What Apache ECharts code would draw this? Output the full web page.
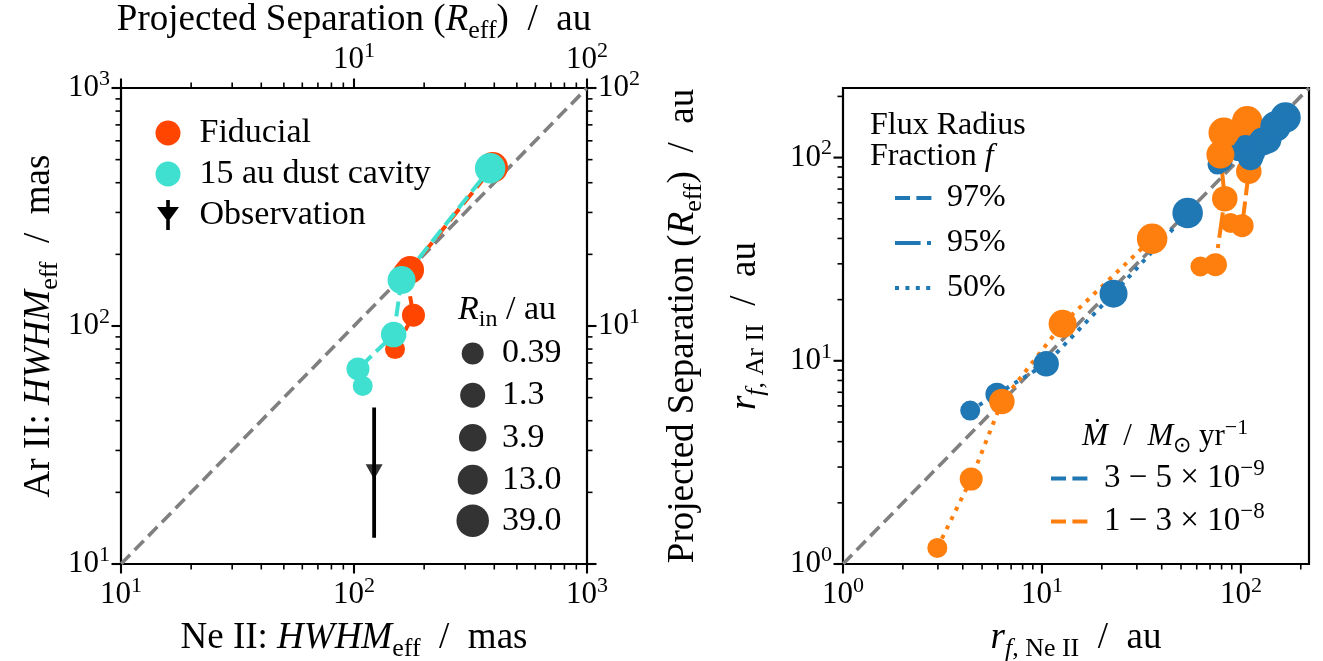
<!DOCTYPE html>
<html>
<head>
<meta charset="utf-8">
<script src="https://cdn.jsdelivr.net/npm/echarts@6/dist/echarts.min.js"></script>
<style>
  html, body { margin: 0; padding: 0; background: #fff; }
  #chart { width: 1323px; height: 661px; }
</style>
</head>
<body>
<div id="chart"></div>
<script>
// ---- data -------------------------------------------------------------
// inner-hole radius of each model (au); one marker size per radius
const rIn = [0.39, 1.3, 3.9, 13.0, 39.0];

// left panel: effective HWHM (mas), Ne II vs Ar II
const fiducialNe = [150, 180, 167, 174, 394];
const fiducialAr = [80, 111, 167, 172, 464];
const cavityNe = [109, 104, 148, 160, 384];
const cavityAr = [56, 66, 92, 156, 460];

// observed HWHM (mas) with its Ar II error bar
const obsNe = [122];
const obsAr = [24.4];
const obsArRange = [12.9, 45.4];

// 1:1 reference line ends
const unityLeft = [10, 1000];
const unityRight = [1, 220];

// right panel: flux radii r_f (au), Ne II vs Ar II
// low accretion rate (3-5e-9)
const lowNe97 = [76.3, 97.2, 114.4, 136.1, 167.6];
const lowAr97 = [92.4, 109.5, 105.8, 122.6, 157.4];
const lowNe95 = [80.8, 105.5, 111.7, 128.5, 149.3];
const lowAr95 = [95.6, 113.3, 100.0, 119.9, 142.2];
const lowNe50 = [4.36, 5.94, 10.5, 22.9, 54.0];
const lowAr50 = [5.69, 6.85, 9.67, 21.4, 53.4];
// high accretion rate (1-3e-8)
const highNe97 = [88.7, 101.5, 109.6, 106.7, 107.6];
const highAr97 = [47.7, 46.2, 85.6, 122.6, 151.0];
const highNe95 = [62.6, 74.5, 83.0, 78.9, 82.0];
const highAr95 = [29.1, 29.7, 62.8, 103.5, 132.4];
const highNe50 = [2.98, 4.41, 6.29, 12.7, 35.8];
const highAr50 = [1.20, 2.62, 6.30, 15.2, 39.9];

// axis ranges and decade ticks
const masRange = [10, 1000];
const auRange = [1, 100];
const rfRange = [1, 220];
const masMajor = [10, 100, 1000];
const auMajor = [1, 10, 100];

// ---- styles ------------------------------------------------------------
const F = 'Liberation Serif';
const markerSize = [20, 23, 25.5, 28, 30.5];
const keySize = [22, 25, 27.5, 30, 32.5];
const C = {
  fid: '#ff4500', cav: '#40e0d0', obs: '#000000',
  blue: '#1f77b4', orange: '#ff7f0e', unity: '#808080'
};
const LW = 4;
const DASH = [15, 6.4], DASHDOT = [25.6, 6.4, 4, 6.4], DOT = [4, 6.4];

function rich(fs) {
  const lh = Math.round(fs * 1.3), sf = Math.round(fs * 0.7);
  const base = { fontFamily: F, color: '#000', fontWeight: 'normal' };
  return {
    r: Object.assign({ fontSize: fs, lineHeight: lh }, base),
    i: Object.assign({ fontSize: fs, lineHeight: lh, fontStyle: 'italic' }, base),
    sub: Object.assign({ fontSize: sf, lineHeight: sf, verticalAlign: 'bottom' }, base),
    subi: Object.assign({ fontSize: sf, lineHeight: sf, verticalAlign: 'bottom', fontStyle: 'italic' }, base),
    sup: Object.assign({ fontSize: sf, lineHeight: sf, verticalAlign: 'top' }, base)
  };
}

function decadeLabel(hideZero) {
  return function (v) {
    const e = Math.log10(v), k = Math.round(e);
    if (Math.abs(e - k) > 1e-6) return '';
    if (hideZero && k === 0) return '';
    return '{r|10}{sup|' + k + '}';
  };
}

function minorsOf(lo, hi) {
  const out = [];
  for (let d = lo; d < hi; d *= 10) {
    for (let k = 2; k < 10; k++) {
      if (d * k <= hi * (1 + 1e-9)) out.push(d * k);
    }
  }
  return out;
}

function pairs(xs, ys) { return xs.map((x, i) => [x, ys[i]]); }

// ---- axes --------------------------------------------------------------
const tickFont = 31;
const nameFont = 37;
function logAxis(extra) {
  return Object.assign({
    type: 'log', logBase: 10,
    axisLine: { show: false }, axisTick: { show: false },
    splitLine: { show: false }, minorTick: { show: false },
    nameLocation: 'middle', nameMoveOverlap: false,
    nameTextStyle: { rich: rich(nameFont) }
  }, extra);
}
function tickLabels(margin, hideZero) {
  return { rich: rich(tickFont), fontFamily: F, fontSize: tickFont, color: '#000',
    margin: margin, hideOverlap: false, formatter: decadeLabel(hideZero) };
}

const xAxes = [
  logAxis({ gridIndex: 0, position: 'bottom', min: masRange[0], max: masRange[1],
    name: '{r|Ne II: }{i|HWHM}{sub|eff}{r|  /  mas}', nameGap: 50,
    axisLabel: tickLabels(11, false) }),
  logAxis({ gridIndex: 0, position: 'top', min: auRange[0], max: auRange[1],
    name: '{r|Projected Separation }{r|(}{i|R}{sub|eff}{r|)  /  au}', nameGap: 44,
    axisLabel: tickLabels(8, true) }),
  logAxis({ gridIndex: 1, position: 'bottom', min: rfRange[0], max: rfRange[1],
    name: '{i|r}{subi|f}{sub|, Ne II}{r|  /  au}', nameGap: 50,
    axisLabel: tickLabels(11, false) })
];
const yAxes = [
  logAxis({ gridIndex: 0, position: 'left', min: masRange[0], max: masRange[1],
    name: '{r|Ar II: }{i|HWHM}{sub|eff}{r|  /  mas}', nameGap: 58, nameRotate: 90,
    axisLabel: tickLabels(11, false) }),
  logAxis({ gridIndex: 0, position: 'right', min: auRange[0], max: auRange[1],
    name: '{r|Projected Separation }{r|(}{i|R}{sub|eff}{r|)  /  au}', nameGap: 72, nameRotate: 90,
    axisLabel: tickLabels(11, true) }),
  logAxis({ gridIndex: 1, position: 'left', min: rfRange[0], max: rfRange[1],
    name: '{i|r}{subi|f}{sub|, Ar II}{r|  /  au}', nameGap: 74, nameRotate: 90,
    axisLabel: tickLabels(11, false) })
];

// ---- tick marks drawn from the axis scales -----------------------------
function tickSeries(xi, yi, side, majors, minors, ref) {
  const horiz = side === 'bottom' || side === 'top';
  const data = majors.map(v => horiz ? [v, ref, 1] : [ref, v, 1])
    .concat(minors.map(v => horiz ? [v, ref, 0] : [ref, v, 0]));
  return {
    type: 'custom', xAxisIndex: xi, yAxisIndex: yi, silent: true, clip: false, z: 20,
    data: data,
    renderItem: function (params, api) {
      const p = api.coord([api.value(0), api.value(1)]);
      const cs = params.coordSys;
      const major = api.value(2) === 1;
      const len = major ? 9.5 : 5.5;
      let s;
      if (side === 'bottom') s = { x1: p[0], y1: cs.y + cs.height, x2: p[0], y2: cs.y + cs.height + len };
      else if (side === 'top') s = { x1: p[0], y1: cs.y, x2: p[0], y2: cs.y - len };
      else if (side === 'left') s = { x1: cs.x, y1: p[1], x2: cs.x - len, y2: p[1] };
      else s = { x1: cs.x + cs.width, y1: p[1], x2: cs.x + cs.width + len, y2: p[1] };
      return { type: 'line', shape: s, style: { stroke: '#000', lineWidth: major ? 2.1 : 1.6 } };
    }
  };
}

// ---- series ------------------------------------------------------------
function modelSeries(name, xs, ys, color, dash, xi, yi) {
  return {
    type: 'line', name: name, xAxisIndex: xi, yAxisIndex: yi,
    data: pairs(xs, ys), symbol: 'circle',
    symbolSize: function (v, p) { return markerSize[p.dataIndex]; },
    itemStyle: { color: color, borderWidth: 0 },
    lineStyle: { color: color, width: LW, type: dash, cap: 'butt' },
    emphasis: { disabled: true }, silent: true, z: 3
  };
}
function unitySeries(ends, xi, yi) {
  return {
    type: 'line', xAxisIndex: xi, yAxisIndex: yi, data: pairs(ends, ends),
    symbol: 'none', lineStyle: { color: C.unity, width: 3.6, type: [13, 6.5] },
    silent: true, z: 2
  };
}
// empty series that only feed legend swatches
function keySeries(name, color, dash, xi, yi) {
  return {
    type: 'line', name: name, xAxisIndex: xi, yAxisIndex: yi, data: [],
    symbol: 'none', itemStyle: { color: color },
    lineStyle: { color: color, width: LW, type: dash, cap: 'butt' }
  };
}

const series = [
  unitySeries(unityLeft, 0, 0),
  modelSeries('Fiducial', fiducialNe, fiducialAr, C.fid, DASH, 0, 0),
  modelSeries('15 au dust cavity', cavityNe, cavityAr, C.cav, DASH, 0, 0),
  {
    type: 'line', name: 'Observation', xAxisIndex: 0, yAxisIndex: 0,
    data: [[obsNe[0], obsArRange[0]], [obsNe[0], obsArRange[1]]],
    symbol: 'none', itemStyle: { color: C.obs },
    lineStyle: { color: C.obs, width: 3.8 }, silent: true, z: 4
  },
  {
    type: 'scatter', name: 'Observation', xAxisIndex: 0, yAxisIndex: 0,
    data: pairs(obsNe, obsAr), symbol: 'triangle', symbolRotate: 180,
    symbolSize: [17, 15], itemStyle: { color: C.obs }, silent: true, z: 5
  },
  unitySeries(unityRight, 2, 2),
  modelSeries('low 97', lowNe97, lowAr97, C.blue, DASH, 2, 2),
  modelSeries('high 97', highNe97, highAr97, C.orange, DASH, 2, 2),
  modelSeries('low 95', lowNe95, lowAr95, C.blue, DASHDOT, 2, 2),
  modelSeries('high 95', highNe95, highAr95, C.orange, DASHDOT, 2, 2),
  modelSeries('low 50', lowNe50, lowAr50, C.blue, DOT, 2, 2),
  modelSeries('high 50', highNe50, highAr50, C.orange, DOT, 2, 2),
  keySeries('97%', C.blue, DASH, 2, 2),
  keySeries('95%', C.blue, DASHDOT, 2, 2),
  keySeries('50%', C.blue, DOT, 2, 2),
  keySeries('rate low', C.blue, DASH, 2, 2),
  keySeries('rate high', C.orange, DASH, 2, 2),
  tickSeries(0, 0, 'bottom', masMajor, minorsOf(masRange[0], masRange[1]), masRange[0]),
  tickSeries(0, 0, 'left', masMajor, minorsOf(masRange[0], masRange[1]), masRange[0]),
  tickSeries(1, 1, 'top', auMajor, minorsOf(auRange[0], auRange[1]), auRange[0]),
  tickSeries(1, 1, 'right', auMajor, minorsOf(auRange[0], auRange[1]), auRange[0]),
  tickSeries(2, 2, 'bottom', auMajor, minorsOf(rfRange[0], rfRange[1]), rfRange[0]),
  tickSeries(2, 2, 'left', auMajor, minorsOf(rfRange[0], rfRange[1]), rfRange[0])
];

// size key: one black dot per inner radius
const rInName = v => (v >= 10 ? v.toFixed(1) : String(v));
rIn.forEach(v => {
  series.push({ type: 'scatter', name: rInName(v), xAxisIndex: 0, yAxisIndex: 0,
    data: [], itemStyle: { color: '#000' } });
});

// ---- legends -----------------------------------------------------------
const obsIcon = 'path://M9.2 0 L12.8 0 L12.8 7 L22 7 L11 22 L0 7 L9.2 7 Z M9.2 20 L12.8 20 L12.8 30 L9.2 30 Z';
const legends = [
  {
    left: 155.5, top: 116, orient: 'vertical', padding: 0, itemGap: 7,
    itemWidth: 25, itemHeight: 30, selectedMode: false,
    textStyle: { fontFamily: F, fontSize: 34, lineHeight: 30, color: '#000', padding: [0, 0, 0, 14] },
    data: [
      { name: 'Fiducial', icon: 'circle' },
      { name: '15 au dust cavity', icon: 'circle' },
      { name: 'Observation', icon: obsIcon }
    ]
  },
  {
    left: 893, top: 182, orient: 'vertical', padding: 0, itemGap: 13,
    itemWidth: 40, itemHeight: 30, selectedMode: false,
    itemStyle: { color: 'rgba(0,0,0,0)', borderWidth: 0 },
    lineStyle: { width: LW },
    textStyle: { fontFamily: F, fontSize: 32, lineHeight: 30, color: '#000', padding: [0, 0, 0, 7] },
    data: ['97%', '95%', '50%']
  },
  {
    left: 1049, top: 457, orient: 'vertical', padding: 0, itemGap: 0,
    itemWidth: 40, itemHeight: 30, selectedMode: false,
    itemStyle: { color: 'rgba(0,0,0,0)', borderWidth: 0 },
    lineStyle: { width: LW },
    textStyle: { fontFamily: F, fontSize: 33, lineHeight: 30, color: '#000', padding: [0, 0, 0, 8], rich: rich(33) },
    formatter: n => n === 'rate low' ? '{r|3 − 5 × 10}{sup|−9}' : '{r|1 − 3 × 10}{sup|−8}',
    data: ['rate low', 'rate high']
  }
];
const keyRows = [351.7, 393.5, 436, 478, 520];
rIn.forEach((v, i) => {
  const s = keySize[i];
  const h = Math.max(s, 30.5);
  legends.push({
    left: 472.7 - s / 2, top: keyRows[i] - h / 2, padding: 0,
    itemWidth: s, itemHeight: s, selectedMode: false,
    textStyle: { fontFamily: F, fontSize: 34, lineHeight: s, color: '#000',
      padding: [0, 0, 0, 502 - (472.7 + s / 2 + 5)] },
    data: [{ name: rInName(v), icon: 'circle' }]
  });
});

// ---- key titles ----------------------------------------------------------
const titles = [
  { left: 458, top: 288, padding: 0, text: '{i|R}{sub|in}{r| / au}',
    textStyle: { fontWeight: 'normal', rich: rich(34) } },
  { left: 870, top: 110, padding: 0, text: '{r|Flux Radius}\n{r|Fraction }{i|f}',
    textStyle: { fontWeight: 'normal',
      rich: (function () { const r = rich(32); r.r.lineHeight = 31; r.i.lineHeight = 31; return r; })() } },
  { left: 1082, top: 417, padding: 0, text: '{i|Ṁ}{r|  /  }{i|M}{sub|⊙}{r| yr}{sup|−1}',
    textStyle: { fontWeight: 'normal', rich: rich(31) } }
];

const chart = echarts.init(document.getElementById('chart'), null, { renderer: 'canvas' });
chart.setOption({
  animation: false,
  backgroundColor: '#fff',
  textStyle: { fontFamily: F },
  grid: [
    { left: 121, top: 88, width: 466, height: 476, show: true, borderColor: '#000', borderWidth: 2.2,
      backgroundColor: 'rgba(0,0,0,0)', outerBoundsMode: 'none', containLabel: false },
    { left: 843, top: 88, width: 466, height: 476, show: true, borderColor: '#000', borderWidth: 2.2,
      backgroundColor: 'rgba(0,0,0,0)', outerBoundsMode: 'none', containLabel: false }
  ],
  xAxis: xAxes,
  yAxis: yAxes,
  legend: legends,
  title: titles,
  tooltip: { show: false },
  series: series
});
</script>
</body>
</html>
